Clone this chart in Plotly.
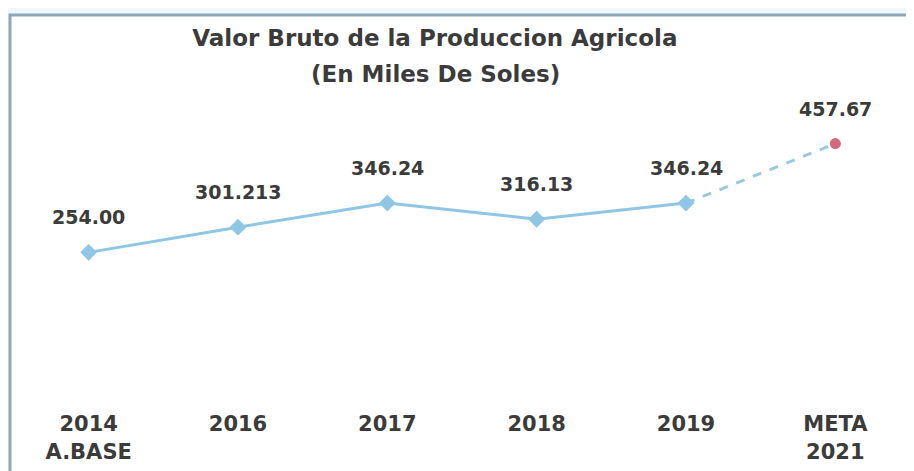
import plotly.graph_objects as go

# Data
years = ["2014<br>A.BASE", "2016", "2017", "2018", "2019"]
values = [254.00, 301.213, 346.24, 316.13, 346.24]
labels = ["254.00", "301.213", "346.24", "316.13", "346.24"]

meta_year = "META<br>2021"
meta_value = 457.67
meta_label = "457.67"

title_line1 = "Valor Bruto de la Produccion Agricola"
title_line2 = "(En Miles De Soles)"

categories = years + [meta_year]

FONT = "DejaVu Sans"
TEXT_COLOR = "#3b3b3b"
LINE_COLOR = "#8ec6e4"
DASH_COLOR = "#9cc8dc"
META_COLOR = "#d4687c"

fig = go.Figure()

# Dashed projection from the last real year to the target
fig.add_trace(
    go.Scatter(
        x=[years[-1], meta_year],
        y=[values[-1], meta_value],
        mode="lines",
        line=dict(color=DASH_COLOR, width=3, dash="dash"),
        hoverinfo="skip",
        showlegend=False,
    )
)

# Historical series
fig.add_trace(
    go.Scatter(
        x=years,
        y=values,
        mode="lines+markers",
        line=dict(color=LINE_COLOR, width=3),
        marker=dict(symbol="diamond", size=13, color=LINE_COLOR),
        showlegend=False,
    )
)

# Target point
fig.add_trace(
    go.Scatter(
        x=[meta_year],
        y=[meta_value],
        mode="markers",
        marker=dict(symbol="circle", size=11, color=META_COLOR),
        showlegend=False,
    )
)

# Data labels above each point (category index, since "2016" etc. look numeric)
for i, (y, t) in enumerate(zip(values + [meta_value], labels + [meta_label])):
    fig.add_annotation(
        x=i, y=y, text=t, showarrow=False, yshift=35,
        font=dict(family=FONT, size=19, color=TEXT_COLOR, weight="bold"),
    )

# Second title line
fig.add_annotation(
    xref="paper", yref="paper", x=0.47, y=1.176,
    xanchor="center", yanchor="middle",
    text=title_line2, showarrow=False,
    font=dict(family=FONT, size=23, color=TEXT_COLOR, weight="bold"),
)

# Chart frame (left/top edges visible, the rest runs off the page)
fig.add_shape(
    type="rect",
    xref="paper", yref="paper",
    xsizemode="pixel", ysizemode="pixel",
    xanchor=0, yanchor=1,
    x0=-4, x1=1200, y0=-1000, y1=106,
    line=dict(color="#8fa5b8", width=3),
    fillcolor="white",
    layer="below",
)

fig.update_layout(
    width=914,
    height=471,
    margin=dict(l=6, r=12, t=113, b=91),
    paper_bgcolor="#eef7fb",
    plot_bgcolor="rgba(0,0,0,0)",
    title=dict(
        text=title_line1,
        x=0.467, xanchor="center",
        y=1 - 30 / 471, yanchor="middle",
        font=dict(family=FONT, size=23, color=TEXT_COLOR, weight="bold"),
    ),
    xaxis=dict(
        type="category",
        categoryorder="array",
        categoryarray=categories,
        range=[-0.5, 5.5],
        showgrid=False,
        zeroline=False,
        showline=False,
        ticks="outside",
        ticklen=17,
        tickcolor="rgba(0,0,0,0)",
        tickfont=dict(family=FONT, size=21, color=TEXT_COLOR, weight="bold"),
    ),
    yaxis=dict(
        range=[0, 500],
        visible=False,
    ),
)

fig.write_html("out.html")
